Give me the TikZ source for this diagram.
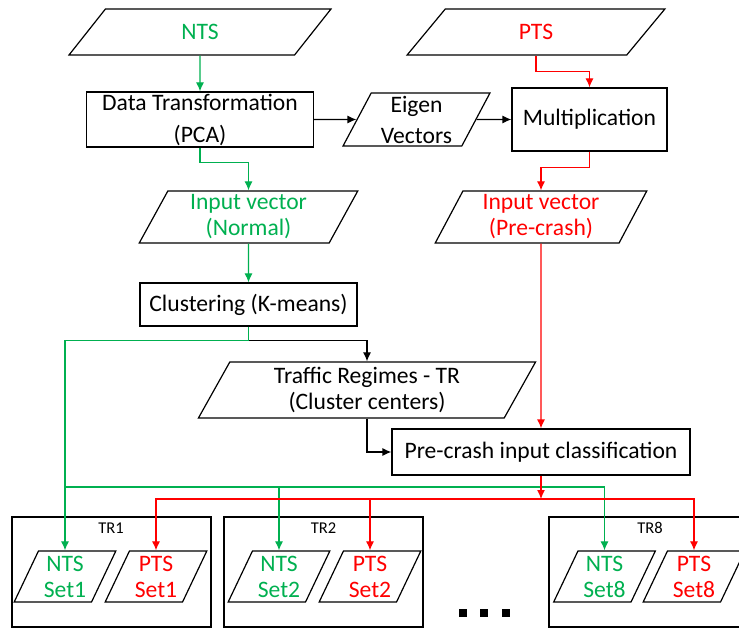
\documentclass[tikz,border=0pt]{standalone}
\usepackage{fontspec}
\setmainfont{Carlito}
\usetikzlibrary{shapes.geometric,arrows.meta}
\definecolor{ntsgreen}{RGB}{0,176,80}

\begin{document}
\begin{tikzpicture}[x=1pt,y=-1pt,>={Latex[length=9pt,width=8pt]},line width=1.2pt,
  font=\fontsize{23.6}{26}\selectfont,
  io/.style={draw,trapezium,trapezium left angle=65,trapezium right angle=115,trapezium stretches=true,inner sep=0pt,align=center},
  proc/.style={draw,rectangle,inner sep=0pt,align=center},
  set/.style={io,minimum width=102pt,minimum height=51pt},
  trbox/.style={draw,rectangle,minimum width=199pt,minimum height=110pt},
  trlab/.style={font=\fontsize{16.5}{18}\selectfont},
  grn/.style={ntsgreen},
  rd/.style={red}]
\clip (0,0) rectangle (739,628);
\node[io,text=ntsgreen,minimum width=263pt,minimum height=46pt] (nts) at (200,32) {NTS};
\node[io,text=red,minimum width=258pt,minimum height=46pt] (pts) at (536,32) {PTS};
\node[proc,minimum width=227pt,minimum height=55pt] (dt) at (200,119.5) {Data Transformation\\[6pt](PCA)};
\node[io,minimum width=147pt,minimum height=53pt] (eig) at (416.5,119.5) {Eigen\\[5pt]Vectors};
\node[proc,minimum width=155pt,minimum height=63pt] (mult) at (589.5,119.5) {Multiplication};
\node[io,text=ntsgreen,minimum width=219pt,minimum height=52pt] (nrm) at (248.5,217) {Input vector\\(Normal)};
\node[io,text=red,minimum width=212pt,minimum height=52pt] (pre) at (541,217) {Input vector\\(Pre-crash)};
\node[proc,minimum width=217pt,minimum height=43pt] (clu) at (248.5,304.5) {Clustering (K-means)};
\node[io,minimum width=338pt,minimum height=56pt] (trf) at (367,390) {Traffic Regimes - TR\\(Cluster centers)};
\node[proc,minimum width=298pt,minimum height=46pt] (pcl) at (541,452) {Pre-crash input classification};
% traffic regime groups
\node[trbox] (tr1) at (111.5,572) {};
\node[trbox] (tr2) at (323.5,572) {};
\node[trbox] (tr8) at (648.5,572) {};
\node[trlab] (l1) at (111,528) {TR1};
\node[trlab] (l2) at (323.5,528) {TR2};
\node[trlab] (l8) at (650,528) {TR8};
\node[set,text=ntsgreen] (ns1) at (65,576.5) {NTS\\Set1};
\node[set,text=red] (ps1) at (156,576.5) {PTS\\Set1};
\node[set,text=ntsgreen] (ns2) at (279,576.5) {NTS\\Set2};
\node[set,text=red] (ps2) at (370,576.5) {PTS\\Set2};
\node[set,text=ntsgreen] (ns8) at (604.5,576.5) {NTS\\Set8};
\node[set,text=red] (ps8) at (694,576.5) {PTS\\Set8};
\foreach \x/\n in {462.5/d1,484/d2,506/d3}
  \node[fill,minimum size=8pt,inner sep=0pt] (\n) at (\x,613) {};
% connectors
\draw[->,grn] (nts) -- (dt);
\draw[->] (dt) -- (eig);
\draw[->] (eig) -- (mult);
\draw[->,rd] (pts.south) -- ++(0,16) -| (mult.north);
\draw[->,rd] (mult.south) -- ++(0,16) -| (pre.north);
\draw[->,grn] (dt.south) -- ++(0,15) -| (nrm.north);
\draw[->,grn] (nrm) -- (clu);
\coordinate (split) at ([yshift=-14pt]clu.south);
\draw[->] (split) -| (trf.north);
\draw[grn] (clu.south) -- (split);
\draw[->,grn] (split) -| (ns1.north);
\coordinate (gbus) at (ns1.north |- 0,487);
\draw[->,grn] (gbus) -| (ns2.north);
\draw[->,grn] (gbus) -| (ns8.north);
\draw[->] (trf.south) |- (pcl.west);
\draw[->,rd] (pre) -- (pcl);
\coordinate (rbus) at (pcl.south |- 0,499);
\draw[->,rd] (pcl.south) -- (rbus);
\draw[->,rd] (rbus) -| (ps1.north);
\draw[->,rd] (rbus) -| (ps2.north);
\draw[->,rd] (rbus) -| (ps8.north);
\end{tikzpicture}
\end{document}
